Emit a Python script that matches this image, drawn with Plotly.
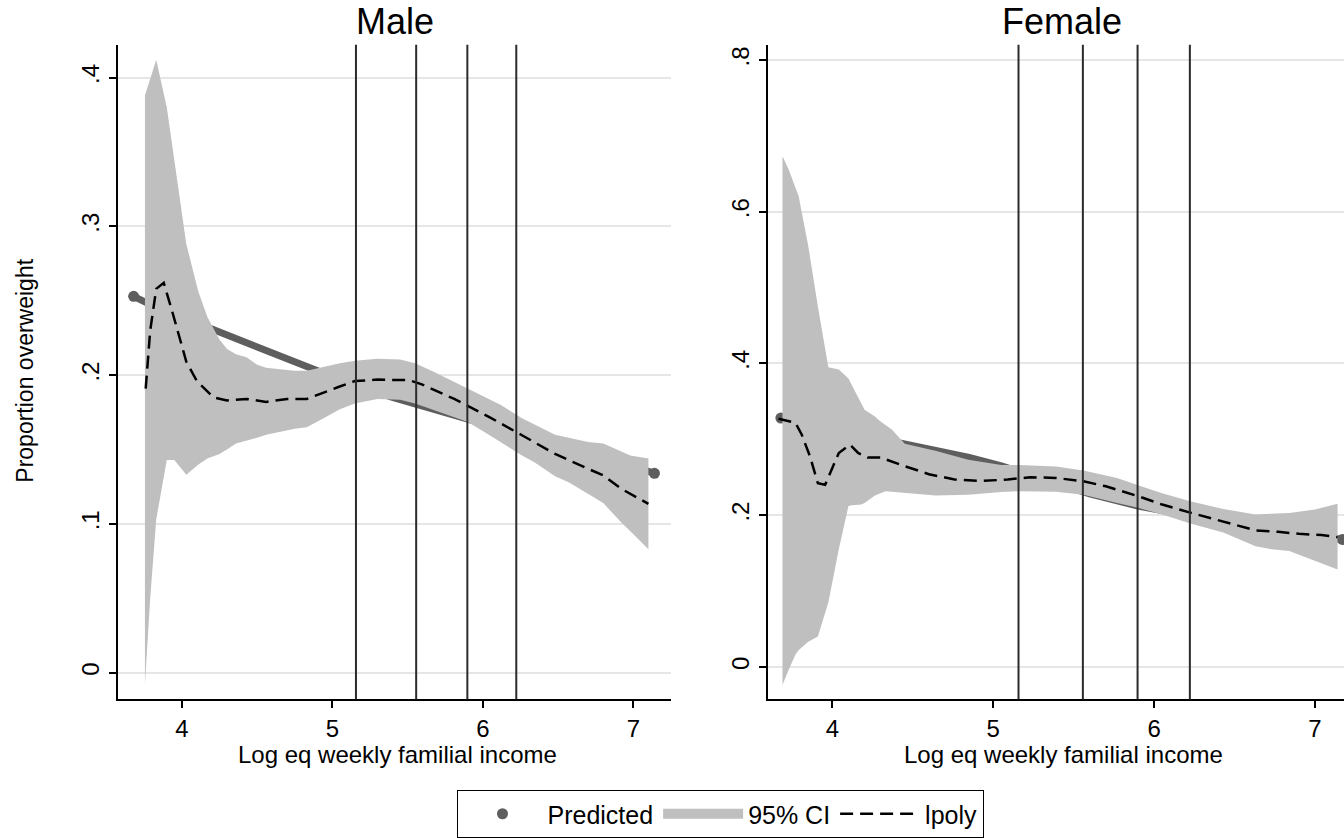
import plotly.graph_objects as go

# ---------------- data ----------------
# Male panel
male_ci_x = [3.755, 3.79, 3.83, 3.90, 3.95, 4.03, 4.11, 4.17, 4.25, 4.30, 4.36, 4.43, 4.50, 4.56,
             4.65, 4.75, 4.83, 4.96, 5.05, 5.15, 5.30, 5.45, 5.55, 5.68, 5.80, 5.90, 6.04, 6.12,
             6.26, 6.34, 6.48, 6.57, 6.70, 6.80, 6.92, 6.98, 7.10]
male_ci_hi = [0.388, 0.400, 0.412, 0.380, 0.345, 0.288, 0.256, 0.239, 0.224, 0.2175, 0.214, 0.212,
              0.207, 0.205, 0.204, 0.203, 0.203, 0.206, 0.208, 0.2097, 0.211, 0.2105, 0.208, 0.202,
              0.196, 0.191, 0.184, 0.180, 0.171, 0.167, 0.160, 0.158, 0.155, 0.154, 0.149, 0.146, 0.144]
male_ci_lo = [-0.008, 0.050, 0.103, 0.143, 0.143, 0.133, 0.140, 0.144, 0.147, 0.150, 0.154, 0.156,
              0.158, 0.160, 0.162, 0.164, 0.165, 0.172, 0.177, 0.181, 0.184, 0.1835, 0.181, 0.176,
              0.172, 0.1685, 0.160, 0.155, 0.146, 0.1416, 0.132, 0.128, 0.120, 0.114, 0.101, 0.095, 0.083]
male_lp_x = [3.76, 3.79, 3.83, 3.88, 3.93, 4.03, 4.10, 4.21, 4.30, 4.43, 4.56, 4.70, 4.83, 4.93,
             5.04, 5.15, 5.30, 5.51, 5.59, 5.81, 6.04, 6.26, 6.48, 6.70, 6.80, 6.92, 7.10]
male_lp_y = [0.191, 0.230, 0.258, 0.262, 0.245, 0.209, 0.196, 0.185, 0.183, 0.184, 0.182, 0.184,
             0.184, 0.188, 0.192, 0.196, 0.197, 0.1966, 0.194, 0.184, 0.172, 0.1596, 0.147, 0.137,
             0.1326, 0.1236, 0.1135]
male_pr_x = [3.68, 3.9, 4.2, 4.5, 4.82, 5.1, 5.4, 5.7, 6.0, 6.3, 6.6, 6.9, 7.14]
male_pr_y = [0.253, 0.242, 0.231, 0.219, 0.205, 0.195, 0.185, 0.176, 0.167, 0.158, 0.150, 0.142, 0.134]

# Female panel
fem_ci_x = [3.69, 3.73, 3.77, 3.79, 3.85, 3.91, 3.975, 4.04, 4.10, 4.12, 4.18, 4.20, 4.265, 4.29,
            4.33, 4.37, 4.45, 4.64, 4.845, 5.05, 5.16, 5.39, 5.56, 5.77, 5.90, 6.05, 6.23, 6.43,
            6.63, 6.73, 6.84, 7.00, 7.14]
fem_ci_hi = [0.673, 0.655, 0.632, 0.621, 0.555, 0.475, 0.395, 0.392, 0.380, 0.372, 0.348, 0.339,
             0.330, 0.325, 0.319, 0.313, 0.294, 0.285, 0.273, 0.266, 0.266, 0.264, 0.259, 0.249,
             0.2395, 0.229, 0.218, 0.208, 0.201, 0.202, 0.203, 0.2075, 0.215]
fem_ci_lo = [-0.024, -0.003, 0.016, 0.022, 0.033, 0.040, 0.085, 0.155, 0.212, 0.213, 0.214, 0.216,
             0.226, 0.228, 0.2315, 0.231, 0.230, 0.226, 0.227, 0.2306, 0.2316, 0.2307, 0.227, 0.216,
             0.2096, 0.201, 0.1886, 0.177, 0.159, 0.155, 0.1526, 0.140, 0.1285]
fem_lp_x = [3.665, 3.77, 3.81, 3.86, 3.91, 3.955, 4.04, 4.11, 4.16, 4.22, 4.30, 4.43, 4.60, 4.76,
            4.925, 5.09, 5.23, 5.39, 5.56, 5.70, 5.90, 6.05, 6.23, 6.43, 6.63, 6.77, 6.90, 7.04, 7.14]
fem_lp_y = [0.327, 0.322, 0.306, 0.278, 0.242, 0.240, 0.282, 0.293, 0.282, 0.276, 0.276, 0.266,
            0.254, 0.247, 0.245, 0.247, 0.250, 0.249, 0.2447, 0.238, 0.225, 0.214, 0.203, 0.192,
            0.180, 0.178, 0.1754, 0.1737, 0.171]
fem_pr_x = [3.68, 4.0, 4.3, 4.6, 4.85, 5.05, 5.3, 5.6, 5.9, 6.2, 6.6, 6.9, 7.17]
fem_pr_y = [0.328, 0.314, 0.300, 0.288, 0.276, 0.265, 0.249, 0.228, 0.212, 0.200, 0.188, 0.178, 0.168]

# income cut-points (vertical reference lines)
cutpoints = [5.157, 5.557, 5.897, 6.222]

# tick labels
x_ticks = [4, 5, 6, 7]
x_ticktext = ["4", "5", "6", "7"]
male_yticks = [0, 0.1, 0.2, 0.3, 0.4]
male_yticktext = ["0", ".1", ".2", ".3", ".4"]
fem_yticks = [0, 0.2, 0.4, 0.6, 0.8]
fem_yticktext = ["0", ".2", ".4", ".6", ".8"]

panel_titles = ["Male", "Female"]
x_title = "Log eq weekly familial income"
y_title = "Proportion overweight"
legend_names = ["Predicted", "95% CI", "lpoly"]

# ---------------- styling ----------------
W, H = 1344, 838
FONT = "Liberation Sans, Arial, sans-serif"
PRED_COL = "#5e5e5e"
CI_COL = "#bfbfbf"


def px_x(p):
    return p / W


def px_y(p):
    return 1 - p / H


fig = go.Figure()

panels = [
    dict(xa="x", ya="y", ci=(male_ci_x, male_ci_hi, male_ci_lo), lp=(male_lp_x, male_lp_y),
         pr=(male_pr_x, male_pr_y), legend=True),
    dict(xa="x2", ya="y2", ci=(fem_ci_x, fem_ci_hi, fem_ci_lo), lp=(fem_lp_x, fem_lp_y),
         pr=(fem_pr_x, fem_pr_y), legend=False),
]

for p in panels:
    prx, pry = p["pr"]
    # Predicted thick line
    fig.add_trace(go.Scatter(x=prx, y=pry, mode="lines", line=dict(color=PRED_COL, width=7),
                             xaxis=p["xa"], yaxis=p["ya"], showlegend=False, hoverinfo="skip"))
    # Predicted end dots (legend entry)
    fig.add_trace(go.Scatter(x=[prx[0], prx[-1]], y=[pry[0], pry[-1]], mode="markers",
                             marker=dict(color=PRED_COL, size=11), name=legend_names[0],
                             xaxis=p["xa"], yaxis=p["ya"], showlegend=p["legend"]))
    cx, chi, clo = p["ci"]
    fig.add_trace(go.Scatter(x=list(cx) + list(cx)[::-1], y=list(chi) + list(clo)[::-1],
                             fill="toself", fillcolor=CI_COL, line=dict(width=0, color=CI_COL),
                             mode="lines", name=legend_names[1], xaxis=p["xa"], yaxis=p["ya"],
                             showlegend=False))
    if p["legend"]:
        # legend swatch for the CI band
        fig.add_trace(go.Scatter(x=[None], y=[None], mode="lines", name=legend_names[1],
                                 line=dict(color=CI_COL, width=26),
                                 xaxis=p["xa"], yaxis=p["ya"], showlegend=True))
    lx, ly = p["lp"]
    fig.add_trace(go.Scatter(x=lx, y=ly, mode="lines", name=legend_names[2],
                             line=dict(color="black", width=2.5, dash="13px,7px"),
                             xaxis=p["xa"], yaxis=p["ya"], showlegend=p["legend"]))

# vertical reference lines
for xa in ["x", "x2"]:
    ya = "y" if xa == "x" else "y2"
    for c in cutpoints:
        fig.add_shape(type="line", xref=xa, yref=f"{ya} domain", x0=c, x1=c, y0=0, y1=1,
                      line=dict(color="#2b2b2b", width=2), layer="above")

ydom = [px_y(702), px_y(45)]
axis_common = dict(showline=True, linecolor="black", linewidth=2, ticks="outside", ticklen=7,
                   tickwidth=2, tickcolor="black", tickfont=dict(size=24, color="black", family=FONT),
                   zeroline=False, automargin=False)

fig.update_layout(
    width=W, height=H, template="none",
    paper_bgcolor="white", plot_bgcolor="white",
    margin=dict(l=0, r=0, t=0, b=0),
    font=dict(family=FONT, color="black"),
    xaxis=dict(domain=[px_x(118), px_x(671)], range=[3.576, 7.25], tickvals=x_ticks,
               ticktext=x_ticktext, showgrid=False, anchor="y", **axis_common),
    yaxis=dict(domain=ydom, range=[-0.018, 0.422], tickvals=male_yticks, ticktext=male_yticktext,
               tickangle=-90, showgrid=True, gridcolor="#e6e6e6", gridwidth=2, anchor="x",
               **axis_common),
    xaxis2=dict(domain=[px_x(768), 1.0], range=[3.60, 7.18], tickvals=x_ticks,
                ticktext=x_ticktext, showgrid=False, anchor="y2", **axis_common),
    yaxis2=dict(domain=ydom, range=[-0.043, 0.82], tickvals=fem_yticks, ticktext=fem_yticktext,
                tickangle=-90, showgrid=True, gridcolor="#e6e6e6", gridwidth=2, anchor="x2",
                **axis_common),
    legend=dict(orientation="h", x=px_x(720), xanchor="center", y=px_y(793), yanchor="top",
                bordercolor="black", borderwidth=1, bgcolor="white",
                font=dict(size=25, family=FONT, color="black"), itemwidth=80,
                tracegroupgap=0),
    showlegend=True,
)

# panel titles
for title, cxp in zip(panel_titles, [394.5, 1062]):
    fig.add_annotation(text=title, x=px_x(cxp), y=px_y(22), xref="paper", yref="paper",
                       xanchor="center", yanchor="middle", showarrow=False,
                       font=dict(size=36, family=FONT, color="black"))
# x axis titles
for cxp in [397, 1063]:
    fig.add_annotation(text=x_title, x=px_x(cxp), y=px_y(757), xref="paper", yref="paper",
                       xanchor="center", yanchor="middle", showarrow=False,
                       font=dict(size=24, family=FONT, color="black"))
# y axis title
fig.add_annotation(text=y_title, x=px_x(25), y=px_y(372), xref="paper", yref="paper",
                   xanchor="center", yanchor="middle", showarrow=False, textangle=-90,
                   font=dict(size=23, family=FONT, color="black"))

fig.write_html("out.html")
